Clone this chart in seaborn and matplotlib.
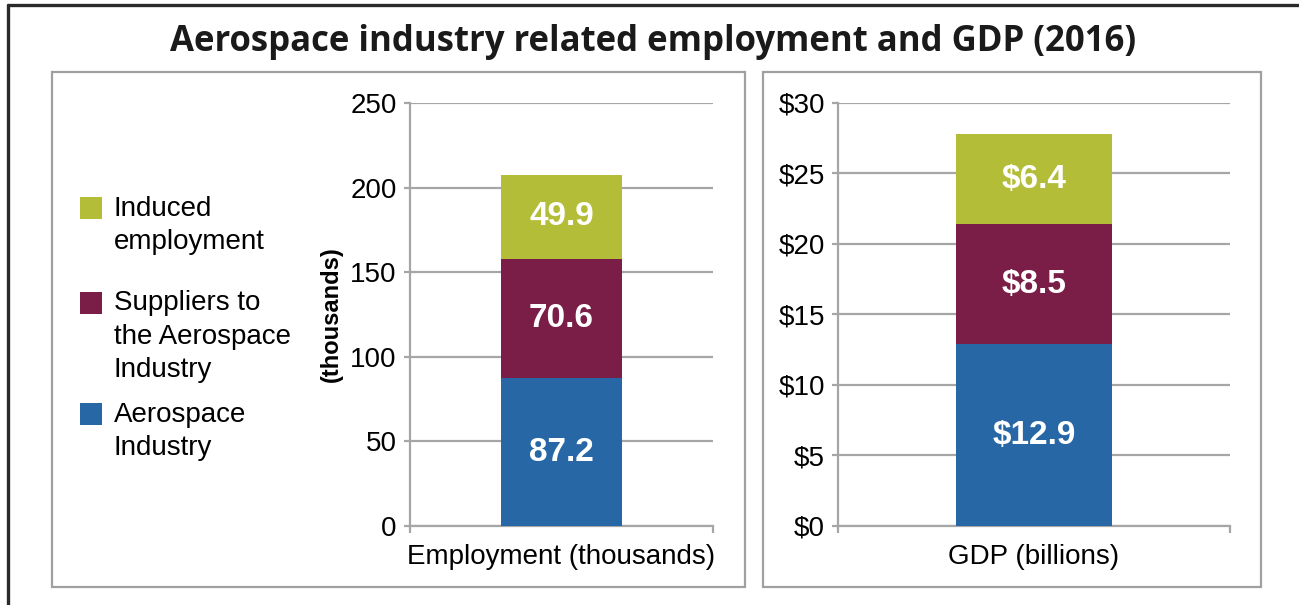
import matplotlib
matplotlib.use("Agg")
import matplotlib.pyplot as plt
import seaborn as sns
import pandas as pd
from matplotlib.patches import Rectangle
from matplotlib.lines import Line2D
from matplotlib.ticker import MultipleLocator, FuncFormatter

# data
series = ["Aerospace Industry", "Suppliers to the Aerospace Industry", "Induced employment"]
legend_labels = ["Aerospace\nIndustry", "Suppliers to\nthe Aerospace\nIndustry", "Induced\nemployment"]
employment = [87.2, 70.6, 49.9]
gdp = [12.9, 8.5, 6.4]
emp_label = "Employment (thousands)"
gdp_label = "GDP (billions)"
colors = ["#2767a6", "#7a1e47", "#b3bd37"]

sns.set_style("white")
plt.rcParams["font.family"] = ["Liberation Sans", "DejaVu Sans"]
plt.rcParams["text.color"] = "black"
plt.rcParams["axes.labelcolor"] = "black"
plt.rcParams["xtick.labelcolor"] = "black"
plt.rcParams["ytick.labelcolor"] = "black"

GRID = "#a6a6a6"

fig = plt.figure(figsize=(12.99, 6.05), dpi=100)
ax1 = fig.add_axes([0.3156, 0.1306, 0.2333, 0.6992])
ax2 = fig.add_axes([0.6451, 0.1306, 0.3018, 0.6992])


def stacked(ax, cat, vals, fmt):
    bottom = 0
    for name, v, c in zip(series, vals, colors):
        df = pd.DataFrame({"cat": [cat], "val": [v]})
        sns.barplot(data=df, x="cat", y="val", bottom=bottom, color=c,
                    width=0.4, saturation=1, ax=ax, zorder=3, linewidth=0)
        ax.text(0, bottom + v / 2, fmt(v), ha="center", va="center",
                color="white", fontsize=24, fontweight="bold", zorder=4)
        bottom += v


def style(ax, top, step, fmt):
    ax.set_xlim(-0.5, 0.5)
    ax.set_ylim(0, top)
    ax.yaxis.set_major_locator(MultipleLocator(step))
    ax.yaxis.set_major_formatter(FuncFormatter(fmt))
    ax.grid(axis="y", color=GRID, lw=1.6, zorder=0)
    ax.set_axisbelow(True)
    for s in ["top", "right"]:
        ax.spines[s].set_visible(False)
    for s in ["left", "bottom"]:
        ax.spines[s].set_color(GRID)
        ax.spines[s].set_linewidth(1.6)
    ax.tick_params(axis="y", which="major", direction="out", length=4.5, width=1.6,
                   color=GRID, labelsize=20, pad=5, left=True)
    ax.tick_params(axis="x", which="major", length=0, labelsize=20, pad=13)
    ax.set_xticks([-0.5, 0.5], minor=True)
    ax.tick_params(axis="x", which="minor", direction="out", length=5, width=1.6,
                   color=GRID, bottom=True)
    ax.set_xlabel("")
    ax.set_ylabel("")


stacked(ax1, emp_label, employment, lambda v: f"{v:.1f}")
stacked(ax2, gdp_label, gdp, lambda v: f"${v:.1f}")
style(ax1, 250, 50, lambda v, p: f"{v:.0f}")
style(ax2, 30, 5, lambda v, p: f"${v:.0f}")

ax1.set_ylabel("(thousands)", fontsize=17, fontweight="bold")
ax1.yaxis.set_label_coords(-0.222, 0.5)

# panel boxes
for x0, w in [(0.0400, 0.5335), (0.5874, 0.3834)]:
    fig.add_artist(Rectangle((x0, 0.0298), w, 0.8512, transform=fig.transFigure,
                             fill=False, edgecolor="#a0a0a0", lw=1.6))

# outer frame (left and top)
fig.add_artist(Line2D([0.0058, 0.0058], [0.0, 0.9917], transform=fig.transFigure,
                      color="#2a2a2a", lw=2.4))
fig.add_artist(Line2D([0.0058, 1.0], [0.9917, 0.9917], transform=fig.transFigure,
                      color="#2a2a2a", lw=2.4))

# legend drawn by hand: square aligned with first text line
leg_y = [414, 302.5, 207.5]
H, W = 605, 1299
for lab, c, yc in zip(legend_labels, colors, leg_y):
    fig.add_artist(Rectangle((80 / W, 1 - (yc + 11) / H), 22 / W, 22 / H,
                             transform=fig.transFigure, color=c, lw=0))
    fig.text(114 / W, 1 - (yc - 12) / H, lab, ha="left", va="top", fontsize=20,
             linespacing=1.36)

fig.text(0.503, 0.931, "Aerospace industry related employment and GDP (2016)",
         ha="center", va="center", fontsize=25, fontweight="bold",
         family="Open Sans", color="#1a1a1a")

fig.savefig("out.png", dpi=100)
